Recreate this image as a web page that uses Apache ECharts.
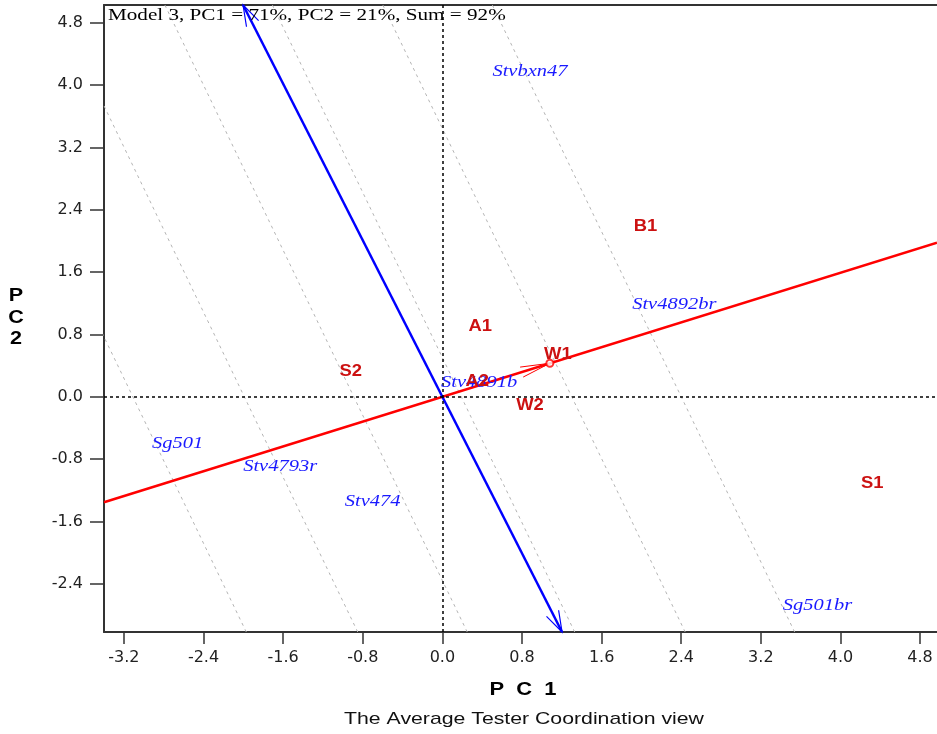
<!DOCTYPE html>
<html>
<head>
<meta charset="utf-8">
<script src="https://cdn.jsdelivr.net/npm/echarts@6/dist/echarts.min.js"></script>
<style>
html,body{margin:0;padding:0;background:#fff}
#chart{width:937px;height:734px}
</style>
</head>
<body>
<div id="chart"></div>
<script>
// Genotype scores (PC1, PC2)
const genotypes = ['Stvbxn47', 'Stv4892br', 'Stv4891b', 'Sg501', 'Stv4793r', 'Stv474', 'Sg501br'];
const genoPC1 = [0.88, 2.33, 0.37, -2.66, -1.63, -0.70, 3.77];
const genoPC2 = [4.17, 1.18, 0.18, -0.60, -0.90, -1.35, -2.68];

// Tester / environment scores (PC1, PC2)
const environments = ['B1', 'A1', 'W1', 'A2', 'W2', 'S2', 'S1'];
const envPC1 = [2.04, 0.38, 1.16, 0.35, 0.88, -0.92, 4.32];
const envPC2 = [2.18, 0.90, 0.54, 0.19, -0.11, 0.32, -1.12];

// Average tester coordinate (defines the ATC abscissa)
const avgEnv = [1.08, 0.43];

// Dashed guide lines: PC1 value where each crosses PC2 = 0, and their slope
const guidePC1 = [-3.11, -1.99, -0.89, 0.19, 1.30, 2.40];
const guideSlope = -2.65;

// Axis ranges and tick labels
const pc1Range = [-3.40, 4.97];
const pc2Range = [-3.02, 5.03];
const pc1Ticks = [-3.2, -2.4, -1.6, -0.8, 0.0, 0.8, 1.6, 2.4, 3.2, 4.0, 4.8];
const pc2Ticks = [-2.4, -1.6, -0.8, 0.0, 0.8, 1.6, 2.4, 3.2, 4.0, 4.8];

const modelText = 'Model 3, PC1 = 71%, PC2 = 21%, Sum = 92%';
const pc1Name = 'P  C  1';
const pc2Name = 'P\nC\n2';
const viewName = 'The Average Tester Coordination view';

const chart = echarts.init(document.getElementById('chart'), null, {renderer: 'canvas'});

// ATC abscissa passes through origin and the average tester; ordinate is perpendicular
const absSlope = avgEnv[1] / avgEnv[0];
const ordSlope = -avgEnv[0] / avgEnv[1];
const absLine = [[pc1Range[0], pc1Range[0] * absSlope], [pc1Range[1], pc1Range[1] * absSlope]];
const ordTop = [pc2Range[1] / ordSlope, pc2Range[1]];
const ordBottom = [pc2Range[0] / ordSlope, pc2Range[0]];

const guideSeries = guidePC1.map(function (x0) {
  return {
    type: 'line',
    silent: true,
    symbol: 'none',
    clip: true,
    animation: false,
    z: 1,
    lineStyle: {color: '#b4b4b4', width: 1, type: [3, 4]},
    data: [[x0 + pc2Range[0] / guideSlope, pc2Range[0]], [x0 + pc2Range[1] / guideSlope, pc2Range[1]]]
  };
});

// Open arrowhead drawn at a tip, pointing away from a reference point
function arrowRenderer(len, halfAngleDeg, color, width) {
  return function (params, api) {
    const tip = api.coord([api.value(0), api.value(1)]);
    const back = api.coord([api.value(2), api.value(3)]);
    let dx = back[0] - tip[0], dy = back[1] - tip[1];
    const n = Math.sqrt(dx * dx + dy * dy) || 1;
    dx /= n; dy /= n;
    const a = halfAngleDeg * Math.PI / 180;
    const rot = function (s) {
      const c = Math.cos(s * a), si = Math.sin(s * a);
      return [tip[0] + len * (dx * c - dy * si), tip[1] + len * (dx * si + dy * c)];
    };
    return {
      type: 'polyline',
      shape: {points: [rot(1), tip, rot(-1)]},
      style: {stroke: color, lineWidth: width, fill: null}
    };
  };
}

function labelRenderer(names, font, color, stretch) {
  return function (params, api) {
    const p = api.coord([api.value(0), api.value(1)]);
    return {
      type: 'text',
      x: p[0],
      y: p[1],
      scaleX: stretch,
      style: {
        text: names[params.dataIndex],
        font: font,
        fill: color,
        align: 'center',
        verticalAlign: 'middle',
        textAlign: 'center',
        textVerticalAlign: 'middle'
      }
    };
  };
}

const option = {
  animation: false,
  backgroundColor: '#ffffff',
  grid: {left: 104, top: 5, right: 0, bottom: 102, containLabel: false},
  xAxis: [{
    type: 'value',
    min: pc1Range[0],
    max: pc1Range[1],
    splitLine: {show: false},
    axisLine: {show: true, onZero: false, lineStyle: {color: '#333', width: 2}},
    axisTick: {show: true, customValues: pc1Ticks, length: 12, lineStyle: {color: '#333', width: 1.5}},
    axisLabel: {
      show: true, customValues: pc1Ticks, margin: 18,
      formatter: function (v) { return Number(v).toFixed(1); },
      fontFamily: 'DejaVu Sans', fontSize: 16, color: '#222'
    }
  }, {
    type: 'value',
    position: 'top',
    min: pc1Range[0],
    max: pc1Range[1],
    splitLine: {show: false},
    axisLine: {show: true, onZero: false, lineStyle: {color: '#333', width: 2}},
    axisTick: {show: false},
    axisLabel: {show: false}
  }],
  yAxis: {
    type: 'value',
    min: pc2Range[0],
    max: pc2Range[1],
    splitLine: {show: false},
    axisLine: {show: true, onZero: false, lineStyle: {color: '#333', width: 2}},
    axisTick: {show: true, customValues: pc2Ticks, length: 14, lineStyle: {color: '#333', width: 1.5}},
    axisLabel: {
      show: true, customValues: pc2Ticks, margin: 21,
      formatter: function (v) { return Number(v).toFixed(1); },
      fontFamily: 'DejaVu Sans', fontSize: 16, color: '#222'
    }
  },
  series: guideSeries.concat([
    {
      // zero reference lines
      type: 'line',
      silent: true,
      data: [],
      markLine: {
        silent: true,
        symbol: 'none',
        animation: false,
        label: {show: false},
        lineStyle: {color: '#000', width: 1.5, type: [3, 3]},
        data: [{xAxis: 0}, {yAxis: 0}]
      }
    },
    {
      // ATC abscissa
      type: 'line', silent: true, symbol: 'none', clip: true, z: 3,
      lineStyle: {color: '#ff0000', width: 2.5},
      data: absLine
    },
    {
      // ATC ordinate
      type: 'line', silent: true, symbol: 'none', clip: true, z: 3,
      lineStyle: {color: '#0000ff', width: 2.5},
      data: [ordTop, ordBottom]
    },
    {
      type: 'custom', silent: true, z: 4, clip: false,
      renderItem: arrowRenderer(22, 18, '#0000ff', 1.2),
      encode: {x: 0, y: 1},
      data: [[ordTop[0], ordTop[1], 0, 0], [ordBottom[0], ordBottom[1], 0, 0]]
    },
    {
      type: 'custom', silent: true, z: 4,
      renderItem: arrowRenderer(30, 10, '#ff0000', 1),
      encode: {x: 0, y: 1},
      data: [[avgEnv[0], avgEnv[1], 0, 0]]
    },
    {
      type: 'scatter', silent: true, z: 4,
      symbol: 'emptyCircle', symbolSize: 7,
      itemStyle: {color: '#ff0000', borderColor: '#ff0000', borderWidth: 1},
      data: [avgEnv]
    },
    {
      type: 'custom', silent: true, z: 6,
      renderItem: labelRenderer(genotypes, 'italic 16px "Liberation Serif"', '#1a1aff', 1.28),
      encode: {x: 0, y: 1},
      data: genoPC1.map(function (v, i) { return [v, genoPC2[i]]; })
    },
    {
      type: 'custom', silent: true, z: 6,
      renderItem: labelRenderer(environments, 'bold 16px "Liberation Sans"', '#cc1111', 1.15),
      encode: {x: 0, y: 1},
      data: envPC1.map(function (v, i) { return [v, envPC2[i]]; })
    }
  ]),
  graphic: [
    {
      type: 'text', x: 108, y: 16, scaleX: 1.32, z: 100,
      style: {text: modelText, font: '16px "Liberation Serif"', fill: '#000',
        align: 'left', verticalAlign: 'middle', textAlign: 'left', textVerticalAlign: 'middle'}
    },
    {
      type: 'text', x: 523, y: 690, scaleX: 1.22, z: 100,
      style: {text: pc1Name, font: 'bold 18px "Liberation Sans"', fill: '#000',
        align: 'center', verticalAlign: 'middle', textAlign: 'center', textVerticalAlign: 'middle'}
    },
    {
      type: 'text', x: 16, y: 318, scaleX: 1.2, z: 100,
      style: {text: pc2Name, font: 'bold 18px "Liberation Sans"', lineHeight: 21.5, fill: '#000',
        align: 'center', verticalAlign: 'middle', textAlign: 'center', textVerticalAlign: 'middle'}
    },
    {
      type: 'text', x: 524, y: 719, scaleX: 1.25, z: 100,
      style: {text: viewName, font: '17px "Liberation Sans"', fill: '#111',
        align: 'center', verticalAlign: 'middle', textAlign: 'center', textVerticalAlign: 'middle'}
    }
  ]
};

chart.setOption(option);
</script>
</body>
</html>
